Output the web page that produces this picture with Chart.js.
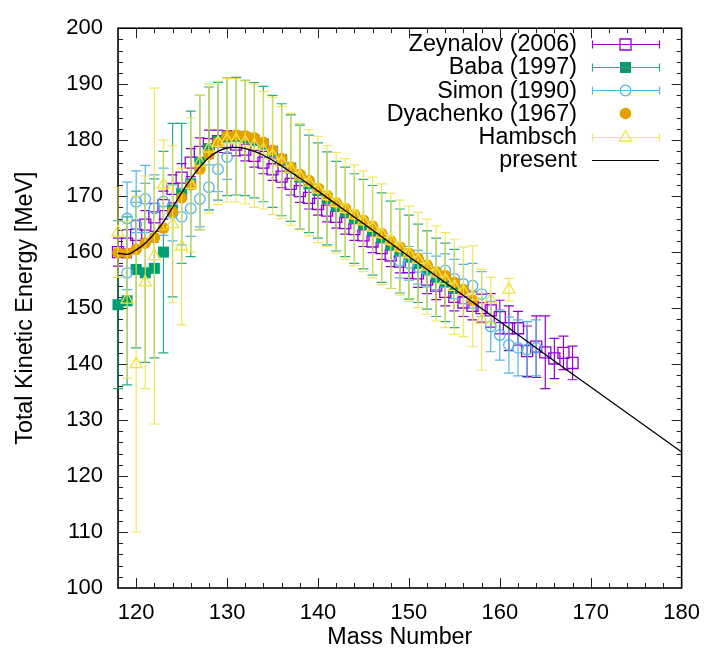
<!DOCTYPE html>
<html>
<head>
<meta charset="utf-8">
<title>Total Kinetic Energy vs Mass Number</title>
<script src="https://cdn.jsdelivr.net/npm/chart.js@4.4.1/dist/chart.umd.min.js"></script>
<style>
  html, body { margin: 0; padding: 0; background: #fff; }
  #wrap { width: 712px; height: 660px; }
</style>
</head>
<body>
<div id="wrap"><canvas id="tkeChart" width="712" height="660"></canvas></div>
<script>
// TKE vs fragment mass

// Zeynalov (2006)
const zeyMass = [118, 119, 120, 121, 122, 123, 124, 125, 126, 127, 128,
    129, 130, 131, 132, 133, 134, 135, 136, 137, 138, 139, 140, 141, 142, 143, 144, 145, 146, 147, 148, 149, 150,
    151, 152, 153, 154, 155, 156, 157, 158, 159, 160, 161, 162, 163, 164, 165, 166, 167, 168];
const zeyTke = [160.0, 161.5, 163.1, 164.9, 166.2, 168.4, 171.3, 173.3, 176.0, 177.9, 179.3,
    179.8, 179.7, 179.2, 178.3, 177.2, 176.0, 174.8, 173.5, 172.2, 170.9, 169.7, 168.6, 167.4, 166.3, 165.2, 164.1, 163.0, 161.9, 160.7, 159.4, 158.3, 157.3,
    156.2, 155.1, 154.0, 152.9, 152.0, 151.0, 150.4, 150.0, 149.6, 148.4, 146.4, 146.4, 142.3, 143.1, 142.1, 141.0, 142.0, 140.2];
const zeyErr = [2.5, 2.5, 2.5, 2.5, 2.5, 2.5, 2.5, 2.5, 2.5, 2.5, 2.5,
    2, 2, 2, 2, 2, 2, 2, 2, 2, 2, 2, 2, 2, 2, 2, 2, 2, 2, 2, 2, 2, 2,
    2.5, 2.5, 2.5, 2.5, 2.5, 2.5, 2.5, 2.5, 3, 3, 4, 3, 4.5, 5.5, 6.5, 3.6, 3, 3];

// Baba (1997)
const babaMass = [118, 119, 120, 121, 122, 123, 124, 125, 126, 127, 128, 129, 130, 131, 132, 133, 134, 135, 136,
    137, 138, 139, 140, 141, 142, 143, 144, 145, 146, 147, 148, 149, 150, 151, 152, 153, 154, 155];
const babaTke = [150.6, 151.3, 156.9, 156.3, 157.1, 160.0, 167.5, 170.5, 172.2, 176.0, 178.5, 179.8, 180.6, 180.7, 180.4, 180.0, 179.3, 178.0, 176.5,
    175.0, 173.4, 172.2, 171.0, 169.6, 168.2, 167.2, 166.0, 165.0, 163.9, 162.6, 161.3, 160.2, 159.1, 158.0, 156.8, 155.5, 154.6, 153.5];
const babaErr = [15, 15, 14, 16, 16, 18, 15.5, 12.5, 13, 12, 11, 10.5, 10.5, 10.5, 10.3, 10.3, 10.3, 10, 10,
    9.5, 9.3, 8.7, 8.5, 8.3, 8, 8, 8, 8, 8, 8, 7.8, 7.5, 7.5, 7, 7, 7, 7, 7];

// Simon (1990)
const simonMass = [119, 119, 120, 120, 121, 122, 123, 124, 125, 126, 127, 128, 129, 130,
    149, 150, 151, 152, 153, 154, 155, 156, 157, 158, 159, 160, 161, 162, 163, 164];
const simonTke = [166.0, 156.3, 169.0, 164.9, 169.5, 167.8, 169.0, 167.0, 166.3, 167.8, 169.5, 171.6, 174.8, 177.0,
    158.4, 158.0, 157.3, 156.8, 156.3, 156.7, 155.2, 154.3, 154.0, 152.5, 146.7, 145.2, 143.4, 142.9, 142.6, 142.9];
const simonErr = [6.5, 3, 5.5, 4, 6, 6, 6, 5, 5, 5, 5, 4, 4, 4,
    3, 3, 3, 3, 3, 3, 3.5, 3.5, 4, 4, 4.5, 4.5, 5, 5, 5, 5];

// Dyachenko (1967) - no error bars
const dyaMass = [118, 119, 120, 121, 122, 123, 124, 125, 126, 127, 128, 129, 130, 131, 132, 133, 134, 135, 136, 137,
    138, 139, 140, 141, 142, 143, 144, 145, 146, 147, 148, 149, 150, 151, 152, 153, 154, 155, 156, 157];
const dyaTke = [159.9, 159.8, 160.5, 161.6, 162.6, 164.3, 167.2, 169.7, 172.0, 174.8, 177.4, 179.6, 180.8, 180.9, 180.8, 180.4, 179.6, 178.2, 176.7, 175.2,
    173.9, 172.8, 171.4, 170.1, 168.8, 167.8, 166.7, 165.7, 164.6, 163.3, 162.0, 160.9, 159.8, 158.9, 157.7, 156.5, 155.8, 154.6, 153.3, 151.4];

// Hambsch
const hambMass = [118, 119, 120, 121, 122, 123, 124, 125, 126, 127, 128, 129, 130, 131, 132, 133, 134, 135, 136, 137,
    138, 139, 140, 141, 142, 143, 144, 145, 146, 147, 148, 149, 150, 151, 152, 153, 154, 155, 156, 157, 158, 159, 161];
const hambTke = [163.5, 151.5, 140.0, 154.6, 159.3, 172.0, 165.0, 161.0, 172.0, 176.0, 178.5, 179.5, 180.0, 180.0, 179.6, 179.0, 178.2, 177.2, 176.0, 174.8,
    173.5, 172.4, 171.2, 170.0, 168.8, 167.7, 166.6, 165.5, 164.4, 163.2, 162.0, 160.8, 159.7, 158.6, 157.4, 156.2, 155.0, 153.8, 152.9, 152.1, 147.9, 151.5, 153.3];
const hambErr = [8, 14, 30, 19, 30, 8, 14, 14, 12, 12, 11.5, 11, 11, 11, 11, 11, 10.5, 10.5, 10, 10,
    9.5, 9.5, 9.5, 9, 9, 9, 9, 9, 9, 9, 8.5, 8.5, 8.5, 8.5, 8.5, 8.5, 8.5, 8.5, 8, 9, 9, 4, 2];

// present (model curve)
const presMass = [118, 119, 120, 121, 122, 123, 124, 125, 126, 127, 128, 129, 130, 131, 132, 133, 134, 135, 136, 137, 138, 139, 140,
    145, 150, 155, 160, 165, 170, 175, 180];
const presTke = [159.8, 159.6, 160.4, 161.6, 163.3, 165.4, 168.0, 170.6, 173.1, 175.2, 176.9, 178.0, 178.6, 178.7, 178.5, 178.0, 177.3, 176.4, 175.4, 174.3, 173.2, 172.1, 170.9,
    165.1, 159.2, 153.4, 147.6, 141.7, 135.9, 130.1, 124.3];

// Axis ticks
const xTicks = [120, 130, 140, 150, 160, 170, 180];
const yTicks = [100, 110, 120, 130, 140, 150, 160, 170, 180, 190, 200];

const COLORS = {
    zey: '#9400d3',
    baba: '#009e73',
    simon: '#56b4e9',
    dya: '#e69f00',
    hamb: '#f0e442'
};
const FONT = '"Liberation Sans", Arial, Helvetica, sans-serif';
const TEXT_SIZE = 23.3;

function toPoints(xs, ys) {
    return xs.map((x, i) => ({ x: x, y: ys[i] }));
}

// draw a marker the same way Chart.js does (used for the legend)
function drawMarker(ctx, style, x, y, r, stroke, fill, lw) {
    ctx.save();
    ctx.beginPath();
    if (style === 'rect') {
        const s = Math.SQRT1_2 * r;
        ctx.rect(x - s, y - s, 2 * s, 2 * s);
    } else if (style === 'triangle') {
        let rad = 0;
        ctx.moveTo(x + Math.sin(rad) * r, y - Math.cos(rad) * r);
        rad += Math.PI * 2 / 3;
        ctx.lineTo(x + Math.sin(rad) * r, y - Math.cos(rad) * r);
        rad += Math.PI * 2 / 3;
        ctx.lineTo(x + Math.sin(rad) * r, y - Math.cos(rad) * r);
        ctx.closePath();
    } else {
        ctx.arc(x, y, r, 0, Math.PI * 2);
    }
    if (fill) {
        ctx.fillStyle = fill;
        ctx.fill();
    }
    if (lw > 0) {
        ctx.strokeStyle = stroke;
        ctx.lineWidth = lw;
        ctx.stroke();
    }
    ctx.restore();
}

// Error bars - drawn just before each dataset so layering follows dataset order
const errorBarPlugin = {
    id: 'errorBars',
    beforeDatasetDraw(chart, args) {
        const ds = chart.data.datasets[args.index];
        if (!ds.errors) return;
        const ctx = chart.ctx;
        const xs = chart.scales.x;
        const ys = chart.scales.y;
        const cap = 5;
        ctx.save();
        ctx.strokeStyle = ds.errorColor || ds.borderColor;
        ctx.lineWidth = 1.2;
        ds.data.forEach((p, i) => {
            const e = ds.errors[i];
            const px = xs.getPixelForValue(p.x);
            const yTop = ys.getPixelForValue(p.y + e);
            const yBot = ys.getPixelForValue(p.y - e);
            ctx.beginPath();
            ctx.moveTo(px, yTop);
            ctx.lineTo(px, yBot);
            ctx.moveTo(px - cap, yTop);
            ctx.lineTo(px + cap, yTop);
            ctx.moveTo(px - cap, yBot);
            ctx.lineTo(px + cap, yBot);
            ctx.stroke();
        });
        ctx.restore();
    }
};

// gnuplot-like frame with inward ticks on all four sides
const framePlugin = {
    id: 'frame',
    beforeDatasetsDraw(chart) {
        const ctx = chart.ctx;
        const a = chart.chartArea;
        const xs = chart.scales.x;
        const ys = chart.scales.y;
        ctx.save();
        ctx.strokeStyle = '#222';
        ctx.lineWidth = 1;
        ctx.beginPath();
        for (let v = 118; v <= 180; v += 2) {
            if (v === 118 || v === 180) continue;
            const len = v % 10 === 0 ? 10 : 5;
            const px = Math.round(xs.getPixelForValue(v)) + 0.5;
            ctx.moveTo(px, a.bottom);
            ctx.lineTo(px, a.bottom - len);
            ctx.moveTo(px, a.top);
            ctx.lineTo(px, a.top + len);
        }
        for (let v = 102; v < 200; v += 2) {
            const len = v % 10 === 0 ? 10 : 5;
            const py = Math.round(ys.getPixelForValue(v)) + 0.5;
            ctx.moveTo(a.left, py);
            ctx.lineTo(a.left + len, py);
            ctx.moveTo(a.right, py);
            ctx.lineTo(a.right - len, py);
        }
        ctx.stroke();
        ctx.strokeStyle = '#000';
        ctx.lineWidth = 1.6;
        ctx.strokeRect(a.left, a.top, a.right - a.left, a.bottom - a.top);
        ctx.restore();
    }
};

// Legend with error-bar samples, top right inside the plot
const legendPlugin = {
    id: 'tkeLegend',
    afterDraw(chart) {
        const ctx = chart.ctx;
        const textRight = 577;
        const x0 = 592, x1 = 659, xm = 625.5;
        const top = 43.5, step = 23.3;
        ctx.save();
        ctx.font = TEXT_SIZE + 'px ' + FONT;
        ctx.textAlign = 'right';
        ctx.textBaseline = 'middle';
        chart.data.datasets.forEach((ds, i) => {
            const y = top + i * step;
            const ly = Math.round(y) + 0.5;
            ctx.fillStyle = '#000';
            ctx.fillText(ds.label, textRight, y + 1);
            if (ds.showLine) {
                ctx.strokeStyle = ds.borderColor;
                ctx.lineWidth = 1.2;
                ctx.beginPath();
                ctx.moveTo(x0, ly);
                ctx.lineTo(x1, ly);
                ctx.stroke();
                return;
            }
            if (ds.errors) {
                ctx.strokeStyle = ds.errorColor || ds.borderColor;
                ctx.lineWidth = 1.2;
                ctx.beginPath();
                ctx.moveTo(x0, ly);
                ctx.lineTo(x1, ly);
                ctx.moveTo(x0 + 0.5, ly - 4);
                ctx.lineTo(x0 + 0.5, ly + 4);
                ctx.moveTo(x1 + 0.5, ly - 4);
                ctx.lineTo(x1 + 0.5, ly + 4);
                ctx.stroke();
            }
            drawMarker(ctx, ds.pointStyle, xm, ly, ds.pointRadius, ds.borderColor,
                ds.backgroundColor === 'rgba(0,0,0,0)' ? null : ds.backgroundColor, ds.pointBorderWidth);
        });
        ctx.restore();
    }
};

Chart.defaults.font.family = FONT;
Chart.defaults.font.size = 22;
Chart.defaults.color = '#000';

const ctx = document.getElementById('tkeChart');

new Chart(ctx, {
    type: 'scatter',
    data: {
        datasets: [
            {
                label: 'Zeynalov (2006)',
                data: toPoints(zeyMass, zeyTke),
                errors: zeyErr,
                borderColor: COLORS.zey,
                backgroundColor: 'rgba(0,0,0,0)',
                pointStyle: 'rect',
                pointRadius: 7.8,
                pointBorderWidth: 1.3,
                order: 5,
                clip: false
            },
            {
                label: 'Baba (1997)',
                data: toPoints(babaMass, babaTke),
                errors: babaErr,
                errorColor: 'rgba(0, 158, 115, 0.85)',
                borderColor: COLORS.baba,
                backgroundColor: COLORS.baba,
                pointStyle: 'rect',
                pointRadius: 7.8,
                pointBorderWidth: 0,
                order: 4,
                clip: false
            },
            {
                label: 'Simon (1990)',
                data: toPoints(simonMass, simonTke),
                errors: simonErr,
                borderColor: COLORS.simon,
                backgroundColor: 'rgba(0,0,0,0)',
                pointStyle: 'circle',
                pointRadius: 5.3,
                pointBorderWidth: 1.3,
                order: 3,
                clip: false
            },
            {
                label: 'Dyachenko (1967)',
                data: toPoints(dyaMass, dyaTke),
                borderColor: COLORS.dya,
                backgroundColor: COLORS.dya,
                pointStyle: 'circle',
                pointRadius: 5.8,
                pointBorderWidth: 0,
                order: 2,
                clip: false
            },
            {
                label: 'Hambsch',
                data: toPoints(hambMass, hambTke),
                errors: hambErr,
                errorColor: 'rgba(240, 228, 66, 0.85)',
                borderColor: COLORS.hamb,
                backgroundColor: 'rgba(0,0,0,0)',
                pointStyle: 'triangle',
                pointRadius: 7,
                pointBorderWidth: 1.3,
                order: 1,
                clip: false
            },
            {
                label: 'present',
                data: toPoints(presMass, presTke),
                showLine: true,
                borderColor: '#000',
                borderWidth: 1.3,
                pointRadius: 0,
                cubicInterpolationMode: 'monotone',
                order: 0,
                clip: false
            }
        ]
    },
    options: {
        responsive: false,
        animation: false,
        events: [],
        layout: {
            padding: { top: 20, right: 25, bottom: 0, left: 0 }
        },
        plugins: {
            legend: { display: false },
            tooltip: { enabled: false }
        },
        scales: {
            x: {
                type: 'linear',
                min: 118,
                max: 180,
                afterBuildTicks: scale => {
                    scale.ticks = xTicks.map(v => ({ value: v }));
                },
                afterFit: scale => {
                    scale.height = 72;
                },
                grid: { display: false, drawTicks: false },
                border: { display: false },
                ticks: { padding: 12, autoSkip: false, maxRotation: 0, color: '#000', font: { size: 22 } },
                title: {
                    display: true,
                    text: 'Mass Number',
                    color: '#000',
                    font: { size: TEXT_SIZE },
                    padding: { top: 0, bottom: 8 }
                }
            },
            y: {
                type: 'linear',
                min: 100,
                max: 200,
                afterBuildTicks: scale => {
                    scale.ticks = yTicks.map(v => ({ value: v }));
                },
                afterFit: scale => {
                    scale.width = 118;
                },
                grid: { display: false, drawTicks: false },
                border: { display: false },
                ticks: { padding: 15, autoSkip: false, color: '#000', font: { size: 22 } },
                title: {
                    display: true,
                    text: 'Total Kinetic Energy [MeV]',
                    color: '#000',
                    font: { size: TEXT_SIZE },
                    padding: { top: 12, bottom: 0 }
                }
            }
        }
    },
    plugins: [framePlugin, errorBarPlugin, legendPlugin]
});
</script>
</body>
</html>
